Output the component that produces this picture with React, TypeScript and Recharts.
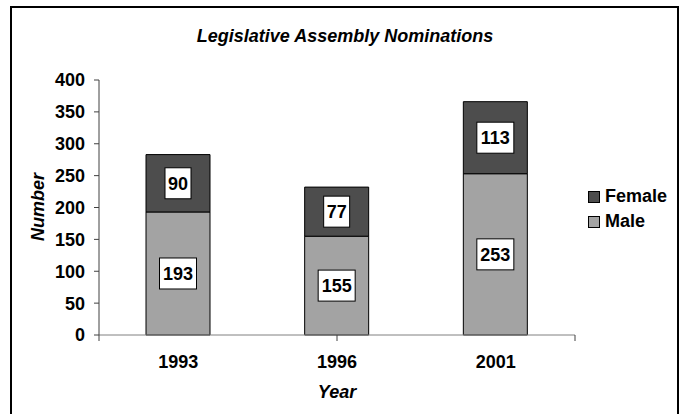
import React from 'react';
import {
  BarChart,
  Bar,
  XAxis,
  YAxis,
  Legend,
  LabelList,
  Label,
} from 'recharts';

const YEARS = ['1993', '1996', '2001'];
const MALE = [193, 155, 253];
const FEMALE = [90, 77, 113];
const Y_TICKS = [0, 50, 100, 150, 200, 250, 300, 350, 400];
const EDGE_TICKS = [0, 1, 2, 3];

const FONT = "Arial, 'Liberation Sans', Helvetica, sans-serif";
const FS = 18;

const SERIES = [
  { key: 'female', name: 'Female', color: '#4d4d4d' },
  { key: 'male', name: 'Male', color: '#a3a3a3' },
];

const data = YEARS.map((year, i) => ({
  year,
  male: MALE[i],
  female: FEMALE[i],
}));

// white boxed value label centred in each stacked segment
const BoxLabel = (props: any) => {
  const { x, y, width, height, value } = props;
  const text = String(value);
  const w = text.length * 11 + 4;
  const h = 31;
  const cx = x + width / 2;
  const cy = y + height / 2;
  return (
    <g>
      <rect x={cx - w / 2} y={cy - h / 2} width={w} height={h} fill="#fff" stroke="#000" strokeWidth={1} />
      <text
        x={cx}
        y={cy}
        dy="0.36em"
        textAnchor="middle"
        fontFamily={FONT}
        fontWeight="bold"
        fontSize={FS}
        fill="#000"
      >
        {text}
      </text>
    </g>
  );
};

// only the small tick marks between categories, no text
const NoText = () => <g />;

const LegendContent = () => (
  <div style={{ fontFamily: FONT, fontWeight: 'bold', fontSize: FS }}>
    {SERIES.map((s) => (
      <div key={s.key} style={{ display: 'flex', alignItems: 'center', height: 25 }}>
        <span
          style={{
            display: 'inline-block',
            width: 10,
            height: 10,
            background: s.color,
            border: '1px solid #000',
            marginRight: 5,
          }}
        />
        <span>{s.name}</span>
      </div>
    ))}
  </div>
);

export default function App() {
  return (
    <div style={{ position: 'absolute', left: 0, top: 0, width: 682, height: 414, background: '#fff', overflow: 'hidden' }}>
      <div
        style={{
          position: 'absolute',
          left: 10,
          top: 6,
          width: 665,
          height: 420,
          border: '2px solid #000',
        }}
      />
      <div
        style={{
          position: 'absolute',
          left: 0,
          width: 682,
          top: 26,
          textAlign: 'center',
          paddingLeft: 4,
          fontFamily: FONT,
          fontWeight: 'bold',
          fontStyle: 'italic',
          fontSize: FS,
        }}
      >
        Legislative Assembly Nominations
      </div>
      <div style={{ position: 'absolute', left: 0, top: 0 }}>
        <BarChart
          width={682}
          height={414}
          data={data}
          margin={{ top: 80, right: 107, left: 0, bottom: 0 }}
        >
          {/* axis line plus tick marks on the category boundaries */}
          <XAxis
            xAxisId={0}
            type="number"
            domain={[0, 3]}
            ticks={EDGE_TICKS}
            interval={0}
            height={1}
            tick={<NoText />}
            axisLine={{ stroke: '#808080' }}
            tickLine={{ stroke: '#404040' }}
            tickSize={6}
          />
          <XAxis
            xAxisId={1}
            dataKey="year"
            height={78}
            tickLine={false}
            tickSize={0}
            tickMargin={19}
            axisLine={false}
            tick={{ fill: '#000', fontFamily: FONT, fontWeight: 'bold', fontSize: FS }}
          >
            <Label
              value="Year"
              position="insideBottom"
              offset={16}
              style={{ fill: '#000', fontFamily: FONT, fontWeight: 'bold', fontStyle: 'italic', fontSize: FS }}
            />
          </XAxis>
          <YAxis
            width={99}
            domain={[0, 400]}
            ticks={Y_TICKS}
            interval={0}
            tickSize={5}
            tickMargin={9}
            axisLine={{ stroke: '#404040' }}
            tickLine={{ stroke: '#404040' }}
            tick={{ fill: '#000', fontFamily: FONT, fontWeight: 'bold', fontSize: FS }}
          >
            <Label
              content={() => (
                <text
                  x={38}
                  y={207}
                  dy="0.36em"
                  transform="rotate(-90, 38, 207)"
                  textAnchor="middle"
                  fontFamily={FONT}
                  fontWeight="bold"
                  fontStyle="italic"
                  fontSize={FS}
                  fill="#000"
                >
                  Number
                </text>
              )}
            />
          </YAxis>
          <Legend
            layout="horizontal"
            verticalAlign="middle"
            align="center"
            content={<LegendContent />}
            wrapperStyle={{ left: 588, top: 184, width: 94 }}
          />
          <Bar xAxisId={1} dataKey="male" name="Male" stackId="a" fill="#a3a3a3" stroke="#000" strokeWidth={1} barSize={64} isAnimationActive={false}>
            <LabelList dataKey="male" content={<BoxLabel />} />
          </Bar>
          <Bar xAxisId={1} dataKey="female" name="Female" stackId="a" fill="#4d4d4d" stroke="#000" strokeWidth={1} barSize={64} isAnimationActive={false}>
            <LabelList dataKey="female" content={<BoxLabel />} />
          </Bar>
        </BarChart>
      </div>
    </div>
  );
}
